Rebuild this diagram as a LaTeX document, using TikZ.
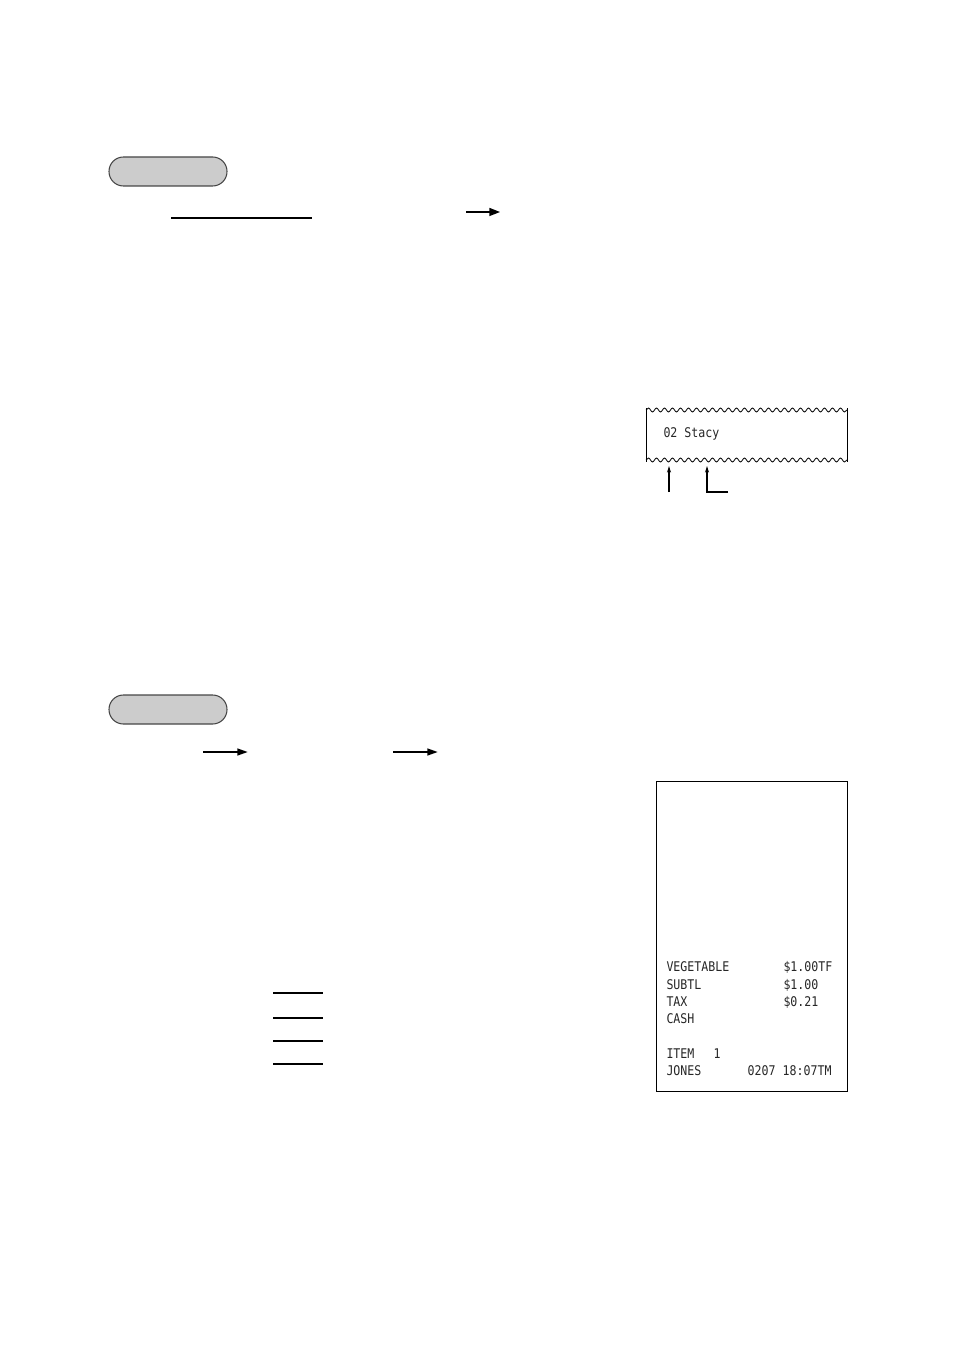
\documentclass[tikz,border=0pt]{standalone}
\usepackage{fontspec}
\newfontfamily\receiptfont[FakeStretch=0.87]{DejaVu Sans Mono}
\usetikzlibrary{arrows.meta,decorations.pathmorphing}
\tikzset{every picture/.style={line width=0.75pt}}
\definecolor{pillgray}{RGB}{204,204,204}
\definecolor{pillline}{RGB}{70,70,70}
\tikzset{
  pill/.style={draw=pillline, fill=pillgray, line width=0.8pt, rounded corners=10.8pt,
    minimum width=88.5pt, minimum height=21.75pt, inner sep=0pt},
  rtext/.style={anchor=base west, inner sep=0pt, font=\receiptfont\fontsize{10}{12}\selectfont, text=black!85},
  ramount/.style={rtext, anchor=base east},
  wave/.style={decorate, decoration={snake, segment length=6pt, amplitude=1.5pt}, line width=0.6pt},
  keyarrow/.style={-{Triangle[length=8pt,width=6pt]}, line width=1.1pt},
  flowarrow/.style={-{Triangle[length=8pt,width=5pt]}, line width=1.6pt},
  slimarrow/.style={-{Stealth[length=5pt,width=3pt]}, line width=0.8pt},
  blankline/.style={line width=1.1pt}
}

\begin{document}
\begin{tikzpicture}[x=0.75pt,y=0.75pt,yscale=-1,xscale=1]
\useasboundingbox (0,0) rectangle (954,1351);

%Shape: Pill (first step)
\node [pill] (pillA) at (168,171.5) {};
%Straight Lines
\coordinate (lineAl) at (171,218);
\coordinate (lineAr) at (312,218);
\draw [blankline] (lineAl) -- (lineAr);
\coordinate (arrAs) at (466,212);
\coordinate (arrAe) at (500,212);
\draw [keyarrow] (arrAs) -- (arrAe);

%Shape: Torn receipt
\coordinate (recTL) at (646,408);
\coordinate (recTR) at (847,408);
\coordinate (recBL) at (646,462);
\coordinate (recBR) at (847,462);
\draw [wave] (646,410) -- (847,410);
\draw [wave] (646,460) -- (847,460);
\draw [line width=0.6pt] (recTL) -- (recBL);
\draw [line width=0.6pt] (recTR) -- (recBR);
% Text Node
\node [rtext] (stacy) at (663,437.5) {02 Stacy};
%Pointer arrows
\coordinate (ptrAb) at (669,492);
\coordinate (ptrAt) at (669,466);
\draw [slimarrow] (ptrAb) -- (ptrAt);
\coordinate (ptrBe) at (728,492);
\coordinate (ptrBb) at (707,492);
\coordinate (ptrBt) at (707,466);
\draw [slimarrow] (ptrBe) -- (ptrBb) -- (ptrBt);

%Shape: Pill (second step)
\node [pill] (pillB) at (168,709.5) {};
%Straight Lines
\coordinate (arrBs) at (203,752);
\coordinate (arrBe) at (248,752);
\draw [flowarrow] (arrBs) -- (arrBe);
\coordinate (arrCs) at (393,752);
\coordinate (arrCe) at (438,752);
\draw [flowarrow] (arrCs) -- (arrCe);

%Blank entry lines
\foreach \yy/\nm in {993/a,1018/b,1041/c,1064/d}{
  \coordinate (blank\nm l) at (273,\yy);
  \coordinate (blank\nm r) at (323,\yy);
  \draw [blankline] (blank\nm l) -- (blank\nm r);
}

%Shape: Receipt
\node [draw, line width=0.8pt, minimum width=143.25pt, minimum height=232.5pt, inner sep=0pt, anchor=north west] (receipt) at (656,780.5) {};

% Text Node
\node [rtext] (vegName) at (666,971.5) {VEGETABLE};
\node [rtext] (vegAmt) at (783,971.5) {\$1.00TF};
\node [rtext] (subName) at (666,989) {SUBTL};
\node [rtext] (subAmt) at (783,989) {\$1.00};
\node [rtext] (taxName) at (666,1006) {TAX};
\node [rtext] (taxAmt) at (783,1006) {\$0.21};
\node [rtext] (cashName) at (666,1023) {CASH};
\node [rtext] (itemName) at (666,1058) {ITEM};
\node [rtext] (itemCnt) at (713,1058) {1};
\node [rtext] (clerk) at (666,1075) {JONES};
\node [ramount] (stamp) at (832,1075) {0207 18:07TM};

\end{tikzpicture}
\end{document}
